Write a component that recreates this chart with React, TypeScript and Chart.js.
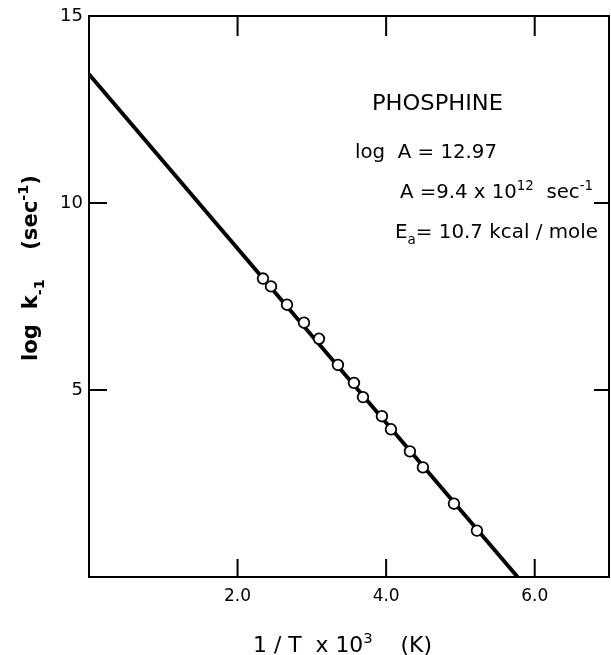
import React, { useEffect, useRef } from "react";
import { Chart, registerables } from "chart.js";
Chart.register(...registerables);

// ---- data ----
const measuredX = [2.342, 2.45, 2.665, 2.894, 3.096, 3.351, 3.567, 3.688, 3.943, 4.065, 4.32, 4.495, 4.913, 5.222];
const measuredLogK = [7.98, 7.77, 7.28, 6.8, 6.37, 5.67, 5.19, 4.81, 4.3, 3.95, 3.36, 2.93, 1.96, 1.24];
const fitX = [0, 5.77];
const fitLogK = [13.44, 0];
const xRange = [0, 7];
const yRange = [0, 15];
const xTickValues = [2, 4, 6];
const yTickValues = [5, 10, 15];
const yInnerTicks = [5, 10];

const FONT = "'DejaVu Sans', sans-serif";

type Seg = { t: string; sub?: boolean; sup?: boolean };

function richWidth(ctx: CanvasRenderingContext2D, segs: Seg[], size: number, weight: string) {
  let w = 0;
  for (const s of segs) {
    const fs = s.sub || s.sup ? size * 0.68 : size;
    ctx.font = `${weight} ${fs}px ${FONT}`;
    w += ctx.measureText(s.t).width;
  }
  return w;
}

function drawRich(ctx: CanvasRenderingContext2D, segs: Seg[], x: number, y: number, size: number, targetWidth: number, weight = "normal") {
  const natural = richWidth(ctx, segs, size, weight);
  const k = targetWidth / natural;
  ctx.save();
  ctx.translate(x, y);
  ctx.scale(k, 1);
  let cx = 0;
  for (const s of segs) {
    const fs = s.sub || s.sup ? size * 0.68 : size;
    ctx.font = `${weight} ${fs}px ${FONT}`;
    const dy = s.sup ? -size * 0.42 : s.sub ? size * 0.32 : 0;
    ctx.fillText(s.t, cx, dy);
    cx += ctx.measureText(s.t).width;
  }
  ctx.restore();
}

const framePlugin = {
  id: "frame",
  afterDraw(chart: any) {
    const ctx: CanvasRenderingContext2D = chart.ctx;
    const { left, right, top, bottom } = chart.chartArea;
    const xs = chart.scales.x;
    const ys = chart.scales.y;
    ctx.save();
    ctx.strokeStyle = "#000";
    ctx.fillStyle = "#000";
    ctx.lineWidth = 2;
    ctx.strokeRect(left, top, right - left, bottom - top);
    // inward ticks
    ctx.beginPath();
    for (const v of xTickValues) {
      const px = xs.getPixelForValue(v);
      ctx.moveTo(px, bottom);
      ctx.lineTo(px, bottom - 18);
      ctx.moveTo(px, top);
      ctx.lineTo(px, top + 20);
    }
    for (const v of yInnerTicks) {
      const py = ys.getPixelForValue(v);
      ctx.moveTo(left, py);
      ctx.lineTo(left + 18, py);
      ctx.moveTo(right, py);
      ctx.lineTo(right - 15, py);
    }
    ctx.stroke();

    ctx.textAlign = "left";
    ctx.textBaseline = "alphabetic";
    // annotations
    drawRich(ctx, [{ t: "PHOSPHINE" }], 372, 110, 22, 131);
    drawRich(ctx, [{ t: "log  A = 12.97" }], 355, 158, 20, 142);
    drawRich(ctx, [{ t: "A =9.4 x 10" }, { t: "12", sup: true }, { t: "  sec" }, { t: "-1", sup: true }], 400, 198, 20, 193);
    drawRich(ctx, [{ t: "E" }, { t: "a", sub: true }, { t: "= 10.7 kcal / mole" }], 395, 238, 20, 203);

    // x-axis title
    drawRich(ctx, [{ t: "1 / T  x 10" }, { t: "3", sup: true }, { t: "    (K)" }], 253, 652, 21, 179);

    // y-axis title (rotated)
    ctx.translate(37, 361);
    ctx.rotate(-Math.PI / 2);
    drawRich(ctx, [{ t: "log  k" }, { t: "-1", sub: true }, { t: "    (sec" }, { t: "-1", sup: true }, { t: ")" }], 0, 0, 21, 186, "bold");
    ctx.restore();
  },
};

export default function App() {
  const ref = useRef<HTMLCanvasElement>(null);
  useEffect(() => {
    if (!ref.current) return;
    const chart = new Chart(ref.current, {
      type: "scatter",
      data: {
        datasets: [
          {
            data: measuredX.map((x, i) => ({ x, y: measuredLogK[i] })),
            pointRadius: 5.3,
            pointBackgroundColor: "#fff",
            pointBorderColor: "#000",
            pointBorderWidth: 1.8,
            showLine: false,
            order: 0,
          },
          {
            data: fitX.map((x, i) => ({ x, y: fitLogK[i] })),
            showLine: true,
            borderColor: "#000",
            borderWidth: 3.9,
            pointRadius: 0,
            order: 1,
          },
        ],
      },
      options: {
        responsive: false,
        animation: false,
        layout: { autoPadding: false, padding: { top: 16, right: 2, left: 0, bottom: 0 } },
        plugins: { legend: { display: false }, tooltip: { enabled: false } },
        scales: {
          x: {
            type: "linear",
            min: xRange[0],
            max: xRange[1],
            afterFit: (s: any) => { s.height = 78; s.paddingLeft = 0; s.paddingRight = 0; },
            afterBuildTicks: (s: any) => { s.ticks = xTickValues.map((v) => ({ value: v })); },
            grid: { display: false, drawTicks: false },
            border: { display: false },
            ticks: {
              padding: 9,
              color: "#000",
              font: { family: FONT, size: 17 },
              callback: (v: any) => Number(v).toFixed(1),
            },
          },
          y: {
            type: "linear",
            min: yRange[0],
            max: yRange[1],
            afterFit: (s: any) => { s.width = 89; s.paddingTop = 0; s.paddingBottom = 0; },
            afterBuildTicks: (s: any) => { s.ticks = yTickValues.map((v) => ({ value: v })); },
            grid: { display: false, drawTicks: false },
            border: { display: false },
            ticks: {
              padding: 6,
              color: "#000",
              font: { family: FONT, size: 18 },
              callback: (v: any) => String(v),
            },
          },
        },
      },
      plugins: [framePlugin],
    });
    return () => chart.destroy();
  }, []);
  return (
    <div style={{ position: "absolute", left: 0, top: 0, width: 611, height: 655, background: "#fff" }}>
      <canvas ref={ref} width={611} height={655} />
    </div>
  );
}
